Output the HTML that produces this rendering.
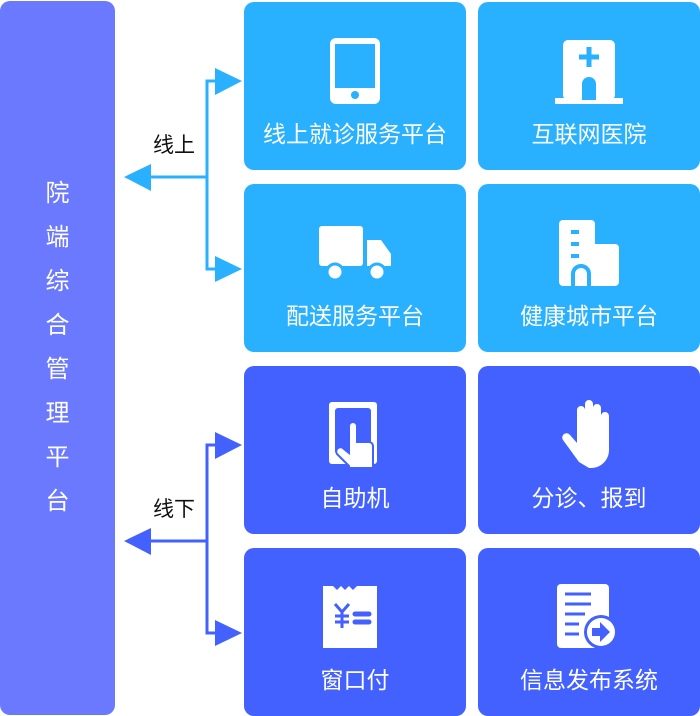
<!DOCTYPE html>
<html><head><meta charset="utf-8"><style>
body{margin:0;width:700px;height:716px;background:#fff;position:relative;overflow:hidden;font-family:"Liberation Sans","Noto Sans CJK SC",sans-serif}
.bar{position:absolute;left:0;top:1px;width:115px;height:714px;background:#6b79fe;border-radius:10px}
.vt{position:absolute;left:0;width:115px;text-align:center;color:#fff;font-size:24px;line-height:44px;top:171px}
.c{position:absolute;width:222px;height:168px;border-radius:10px}
.l{background:#29b1ff}.d{background:#4361fe}
.c span{position:absolute;left:0;right:0;top:116px;text-align:center;color:#fff;font-size:23px;line-height:32px}
.c svg{position:absolute;left:71px;top:30px}
.lab{position:absolute;font-size:21px;color:#111}
</style></head><body>
<div class="bar"><div class="vt">院<br>端<br>综<br>合<br>管<br>理<br>平<br>台</div></div>

<svg width="700" height="716" style="position:absolute;left:0;top:0">
<g fill="#29b1ff" stroke="#29b1ff">
<path d="M151 177H207V81H216M207 177V269H216" fill="none" stroke-width="3"/>
<polygon points="215,68 242,81 215,95" stroke="none"/>
<polygon points="215,256 242,269 215,282" stroke="none"/>
<polygon points="124,177 151,164 151,191" stroke="none"/>
</g>
<g fill="#4361fe" stroke="#4361fe">
<path d="M151 541H207V445H216M207 541V633H216" fill="none" stroke-width="3"/>
<polygon points="215,432 242,445 215,459" stroke="none"/>
<polygon points="215,620 242,633 215,646" stroke="none"/>
<polygon points="124,541 151,528 151,555" stroke="none"/>
</g>
</svg>
<div class="lab" style="left:153px;top:129px">线上</div>
<div class="lab" style="left:153px;top:493px">线下</div>

<div class="c l" style="left:244px;top:2px"><svg width="80" height="80" viewBox="0 0 80 80"><rect x="15" y="6" width="50" height="66" rx="6" fill="#fff"/><rect x="20" y="12" width="40" height="44" fill="#29b1ff"/><circle cx="40" cy="63" r="4" fill="#29b1ff"/></svg><span>线上就诊服务平台</span></div>
<div class="c l" style="left:478px;top:2px"><svg width="80" height="80" viewBox="0 0 80 80"><rect x="14" y="8" width="52" height="60" rx="5" fill="#fff"/><rect x="6" y="66" width="68" height="6" fill="#fff"/><path d="M40 15V35M30 25H50" stroke="#29b1ff" stroke-width="5"/><path d="M33 68V52a7 7 0 0 1 14 0V68Z" fill="#29b1ff"/></svg><span>互联网医院</span></div>
<div class="c l" style="left:244px;top:184px"><svg width="80" height="80" viewBox="0 0 80 80"><rect x="4" y="12" width="44" height="40" rx="3" fill="#fff"/><path d="M52 26H66L76 40V52H52Z" fill="#fff"/><circle cx="20" cy="58" r="8" fill="#fff" stroke="#29b1ff" stroke-width="3"/><circle cx="62" cy="58" r="8" fill="#fff" stroke="#29b1ff" stroke-width="3"/></svg><span>配送服务平台</span></div>
<div class="c l" style="left:478px;top:184px"><svg width="80" height="80" viewBox="0 0 80 80"><rect x="10" y="6" width="36" height="66" rx="4" fill="#fff"/><rect x="40" y="30" width="30" height="42" rx="4" fill="#fff"/><path d="M22 18H30M22 30H30M22 42H30" stroke="#29b1ff" stroke-width="4"/><path d="M24 72V60a8 8 0 0 1 16 0V72" fill="none" stroke="#29b1ff" stroke-width="4"/></svg><span>健康城市平台</span></div>

<div class="c d" style="left:244px;top:366px"><svg width="80" height="80" viewBox="0 0 80 80"><rect x="14" y="6" width="48" height="62" rx="3" fill="#fff"/><rect x="20" y="12" width="36" height="46" rx="3" fill="#4361fe"/><path d="M34 70 22 58a4 4 0 0 1 7-5l5 4V30a4 4 0 0 1 8 0V46h12a4 4 0 0 1 4 4V72H34Z" fill="#fff" stroke="#4361fe" stroke-width="2"/></svg><span>自助机</span></div>
<div class="c d" style="left:478px;top:366px"><svg width="80" height="80" viewBox="0 0 80 80"><path d="M30 66 14 44a4 4 0 0 1 7-5l7 8V14a4 4 0 0 1 8 0V8a4 4 0 0 1 8 0v4a4 4 0 0 1 8 0v8a4 4 0 0 1 8 0V54c0 10-8 18-18 18H40Z" fill="#fff"/></svg><span>分诊、报到</span></div>
<div class="c d" style="left:244px;top:548px"><svg width="80" height="80" viewBox="0 0 80 80"><path d="M8 8h10l4 4 4-4 4 4 4-4 4 4 4-4h20v62H8Z" fill="#fff"/><path d="M20 26l7 8 7-8M27 34V50M20 38H34M20 44H34" stroke="#4361fe" stroke-width="3" fill="none"/><path d="M40 36H54M40 44H54" stroke="#4361fe" stroke-width="5" stroke-linecap="round"/></svg><span>窗口付</span></div>
<div class="c d" style="left:478px;top:548px"><svg width="80" height="80" viewBox="0 0 80 80"><rect x="8" y="6" width="52" height="64" rx="4" fill="#fff"/><path d="M16 16H42M16 26H42M16 36H36M16 46H30M16 56H30" stroke="#4361fe" stroke-width="3"/><circle cx="52" cy="54" r="17" fill="#4361fe"/><circle cx="52" cy="54" r="14" fill="#fff"/><path d="M43 50H51V44L61 54 51 64V58H43Z" fill="#4361fe"/></svg><span>信息发布系统</span></div>
</body></html>
